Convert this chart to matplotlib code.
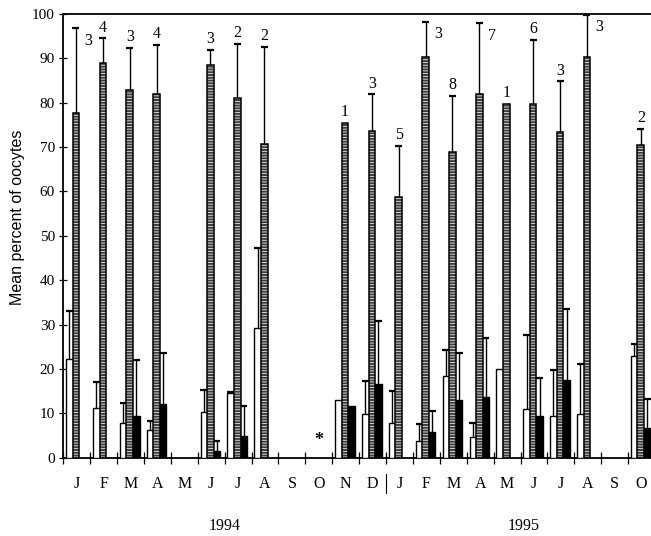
import matplotlib
matplotlib.use("Agg")
import matplotlib.pyplot as plt
import numpy as np

# monthly means (percent of oocytes) and upper SE, Jan 1994 - Oct 1995
MONTHS = ["J", "F", "M", "A", "M", "J", "J", "A", "S", "O", "N", "D",
          "J", "F", "M", "A", "M", "J", "J", "A", "S", "O"]
WHITE = [22.2, 11.1, 7.9, 6.2, 0, 10.4, 14.5, 29.2, 0, 0, 12.9, 9.9,
         7.8, 3.8, 18.4, 4.6, 20.1, 10.9, 9.5, 9.8, 0, 22.9]
WHITE_SE = [10.9, 6.0, 4.4, 2.1, 0, 4.9, 0.3, 18.0, 0, 0, 0, 7.4,
            7.2, 3.9, 5.8, 3.3, 0, 16.8, 10.3, 11.4, 0, 2.8]
STRIPED = [77.7, 88.9, 82.9, 81.9, 0, 88.4, 81.1, 70.7, 0, 0, 75.5, 73.7,
           58.8, 90.4, 68.8, 81.9, 79.8, 79.8, 73.4, 90.4, 0, 70.4]
STRIPED_SE = [19.1, 5.6, 9.4, 11.1, 0, 3.5, 12.1, 21.9, 0, 0, 0, 8.2,
              11.4, 7.9, 12.7, 16.0, 0, 14.3, 11.4, 9.4, 0, 3.7]
BLACK = [0, 0, 9.4, 12.0, 0, 1.4, 4.9, 0, 0, 0, 11.6, 16.6,
         0, 5.9, 12.9, 13.7, 0, 9.5, 17.4, 0, 0, 6.8]
BLACK_SE = [0, 0, 12.6, 11.5, 0, 2.3, 6.8, 0, 0, 0, 0, 14.3,
            0, 4.6, 10.8, 13.2, 0, 8.5, 16.0, 0, 0, 6.5]
# sample sizes; a few sit to the right of the error bar
N_LABELS = ["3", "4", "3", "4", "", "3", "2", "2", "", "", "1", "3",
            "5", "3", "8", "7", "1", "6", "3", "3", "", "2"]
N_RIGHT = [0, 13, 15, 19]
NO_DATA = 9          # asterisk month (Oct 1994)
YEARS = ["1994", "1995"]

SERIF = "Liberation Serif"
SANS = "Liberation Sans"

plt.rcParams["hatch.linewidth"] = 0.6

fig = plt.figure(figsize=(6.51, 5.36), dpi=100)
ax = fig.add_axes([0.0972, 0.1461, 0.909, 0.8278])

x = np.arange(len(MONTHS)) + 0.5
w = 0.245
offs = [-0.275, -0.03, 0.215]
cap = 0.13


def draw(vals, se, off, kind):
    vals = np.array(vals, float)
    se = np.array(se, float)
    m = vals > 0
    xs = x[m] + off
    if kind == "white":
        ax.bar(xs, vals[m], w, color="white", edgecolor="black", lw=1.0, zorder=3)
    elif kind == "black":
        ax.bar(xs, vals[m], w, color="black", edgecolor="black", lw=1.0, zorder=3)
    else:
        ax.bar(xs, vals[m], w, color="#3c3c3c", edgecolor="#e8e8e8", lw=0,
               hatch="------", zorder=3)
        ax.bar(xs, vals[m], w, fill=False, edgecolor="black", lw=1.1, zorder=4)
    # upper error bars only
    e = m & (se > 0)
    xe = x[e] + off
    top = vals[e] + se[e]
    ax.vlines(xe, vals[e], top, color="black", lw=1.0, zorder=2)
    ax.hlines(top, xe - cap, xe + cap, color="black", lw=1.6, zorder=2)


draw(WHITE, WHITE_SE, offs[0], "white")
draw(STRIPED, STRIPED_SE, offs[1], "striped")
draw(BLACK, BLACK_SE, offs[2], "black")

# n labels above (or right of) the striped bars
for i, lab in enumerate(N_LABELS):
    if not lab:
        continue
    top = STRIPED[i] + STRIPED_SE[i]
    if i in N_RIGHT:
        ax.annotate(lab, (x[i] + offs[1], top), xytext=(9, -9),
                    textcoords="offset points", ha="center", va="center",
                    family=SERIF, fontsize=11.5)
    else:
        ax.annotate(lab, (x[i] + offs[1], top), xytext=(0, 2),
                    textcoords="offset points", ha="center", va="bottom",
                    family=SERIF, fontsize=11.5)

ax.text(x[NO_DATA], 3.9, "*", ha="center", va="center", family=SERIF,
        fontsize=13, fontweight="bold")

ax.set_xlim(0, len(MONTHS))
ax.set_ylim(0, 100)
ax.set_yticks(np.arange(0, 101, 10))
ax.set_yticklabels([str(v) for v in range(0, 101, 10)], family=SERIF, fontsize=11)
ax.set_xticks(np.arange(0, len(MONTHS) + 1))
ax.set_xticklabels([])
ax.set_xticks(x, minor=True)
ax.set_xticklabels(MONTHS, minor=True, family=SERIF, fontsize=11.5)
ax.tick_params(axis="x", which="major", direction="inout", length=8, width=0.9)
ax.tick_params(axis="x", which="minor", length=0, pad=13)
ax.tick_params(axis="y", direction="inout", length=6, width=0.9, pad=3)

for s in ["left", "bottom", "top"]:
    ax.spines[s].set_linewidth(1.3)
ax.spines["right"].set_visible(False)

# year separator and year labels under the month row
ax.plot([12, 12], [-3.7, -8.0], color="black", lw=0.8, clip_on=False)
ax.text(6.0, -15.4, YEARS[0], ha="center", va="center", family=SERIF, fontsize=11.5)
ax.text(17.1, -15.4, YEARS[1], ha="center", va="center", family=SERIF, fontsize=11.5)

fig.text(0.027, 0.594, "Mean percent of oocytes", rotation=90, ha="center",
         va="center", family=SANS, fontsize=11.5)

fig.savefig("out.png", dpi=100)
